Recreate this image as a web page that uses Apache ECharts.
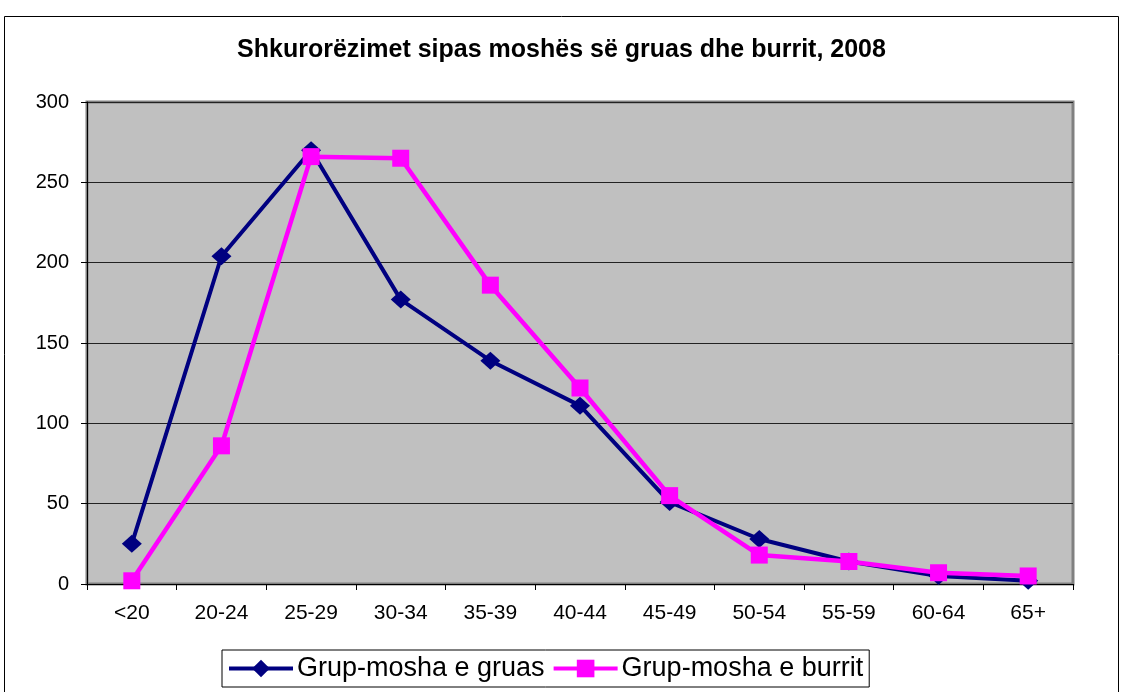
<!DOCTYPE html>
<html>
<head>
<meta charset="utf-8">
<script src="https://cdn.jsdelivr.net/npm/echarts@6/dist/echarts.min.js"></script>
<style>
  html, body { margin: 0; padding: 0; background: #fff; }
  #chart { width: 1123px; height: 692px; }
</style>
</head>
<body>
<div id="chart"></div>
<script>
// age groups
const categories = ['<20', '20-24', '25-29', '30-34', '35-39', '40-44', '45-49', '50-54', '55-59', '60-64', '65+']
// divorces by age group of the wife
const gruas = [25, 204, 270, 177, 139, 111, 51, 28, 14, 5, 2]
// divorces by age group of the husband
const burrit = [2, 86, 266, 265, 186, 122, 55, 18, 14, 7, 5]
const seriesNames = ['Grup-mosha e gruas', 'Grup-mosha e burrit']

const chart = echarts.init(document.getElementById('chart'))

const font = '"Liberation Sans", Arial, sans-serif'

const option = {
  backgroundColor: '#fff',
  animation: false,
  title: {
    text: 'Shkurorëzimet sipas moshës së gruas dhe burrit, 2008',
    left: 'center',
    top: 33,
    textStyle: { fontFamily: font, fontSize: 25, fontWeight: 'bold', color: '#000' }
  },
  graphic: [
    {
      type: 'rect',
      z: -10,
      shape: { x: 4.5, y: 16.5, width: 1114, height: 720 },
      style: { fill: 'none', stroke: '#000', lineWidth: 1 }
    }
  ],
  legend: {
    bottom: 5,
    left: 222,
    itemWidth: 64,
    itemHeight: 22,
    itemGap: 7,
    padding: [5, 6, 5, 5],
    borderColor: '#000',
    borderWidth: 1,
    backgroundColor: '#fff',
    lineStyle: { width: 4 },
    textStyle: { fontFamily: font, fontSize: 27, color: '#000', padding: [0, 0, 0, -1] },
    data: seriesNames
  },
  grid: {
    left: 87,
    right: 50,
    top: 102,
    bottom: 108,
    show: true,
    backgroundColor: '#C0C0C0',
    borderColor: '#808080',
    borderWidth: 3
  },
  xAxis: {
    type: 'category',
    data: categories,
    boundaryGap: true,
    axisLine: { show: true, lineStyle: { color: '#000', width: 1 } },
    axisTick: { show: true, length: 6, lineStyle: { color: '#000' } },
    axisLabel: { fontFamily: font, fontSize: 21, color: '#000', margin: 19 }
  },
  yAxis: {
    type: 'value',
    min: 0,
    max: 300,
    interval: 50,
    axisLine: { show: true, lineStyle: { color: '#000', width: 1 } },
    axisTick: { show: true, length: 6, lineStyle: { color: '#000' } },
    axisLabel: { fontFamily: font, fontSize: 20, color: '#000', margin: 18 },
    splitLine: { show: true, lineStyle: { color: '#222', width: 1 } }
  },
  series: [
    {
      name: seriesNames[0],
      type: 'line',
      data: gruas,
      symbol: 'diamond',
      symbolSize: [20, 18],
      lineStyle: { color: '#000080', width: 4 },
      itemStyle: { color: '#000080' },
      z: 2
    },
    {
      name: seriesNames[1],
      type: 'line',
      data: burrit,
      symbol: 'rect',
      symbolSize: 17,
      lineStyle: { color: '#FF00FF', width: 4.5 },
      itemStyle: { color: '#FF00FF' },
      z: 3
    }
  ]
}

chart.setOption(option)
</script>
</body>
</html>
